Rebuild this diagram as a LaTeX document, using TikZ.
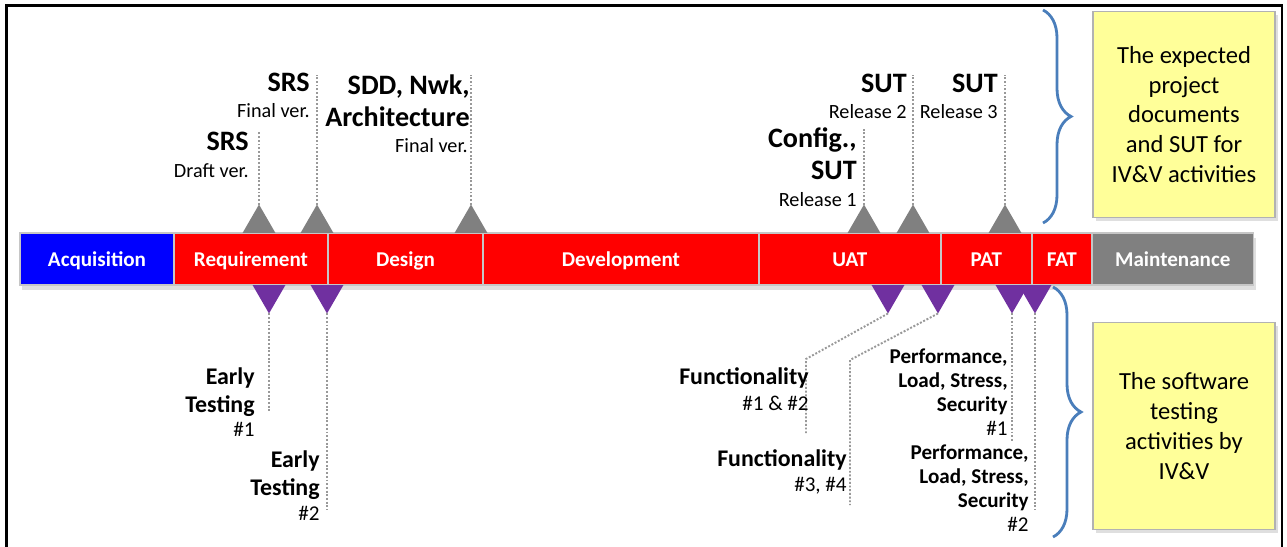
\documentclass[tikz,border=0pt]{standalone}
\usepackage{fontspec}
\setmainfont{Carlito}
\usepackage{xcolor}
\usepackage{tikz}
\usetikzlibrary{positioning}
\usetikzlibrary{shapes.geometric}
\usetikzlibrary{shadows}
\usetikzlibrary{decorations.pathreplacing}
\definecolor{ivvpurple}{RGB}{112,48,160}
\definecolor{ivvblue}{RGB}{74,126,187}
\definecolor{ivvyellow}{RGB}{255,255,153}
\tikzset{
    phase/.style = {rectangle, draw=gray!45, line width=0.8pt, text=white, inner sep=0pt, outer sep=0pt,
        minimum height=1.04cm, text height=1.8ex, text depth=0pt, font=\bfseries\fontsize{12}{14}\selectfont,
        drop shadow={shadow xshift=0.05cm, shadow yshift=-0.1cm, opacity=0.25}},
    blue_phase/.style = {phase, fill=blue},
    red_phase/.style = {phase, fill=red},
    gray_phase/.style = {phase, fill=black!50},
    doc_tri/.style = {regular polygon, regular polygon sides=3, fill=black!50, minimum size=0.76cm, inner sep=0pt, outer sep=0pt},
    test_tri/.style = {regular polygon, regular polygon sides=3, shape border rotate=180, fill=ivvpurple, minimum size=0.76cm, inner sep=0pt, outer sep=0pt}
}
\tikzset{
    tlabel/.style = {align=right, anchor=base east, inner sep=0pt},
    doc_title/.style = {tlabel, font=\bfseries\fontsize{16}{18.7}\selectfont},
    doc_ver/.style = {tlabel, font=\fontsize{11.5}{13}\selectfont},
    test_title/.style = {tlabel, font=\bfseries\fontsize{13.6}{15.9}\selectfont},
    perf_title/.style = {tlabel, font=\bfseries\fontsize{12}{13.6}\selectfont},
    test_num/.style = {tlabel, font=\fontsize{12}{13.6}\selectfont},
    dot_line/.style = {densely dotted, line width=1.1pt, black!40},
    brace_line/.style = {decorate, decoration={brace, amplitude=0.56cm}, line width=1.6pt, ivvblue},
    note_box/.style = {rectangle, draw=black!30, line width=0.8pt, fill=ivvyellow, align=center,
        minimum width=3.64cm, minimum height=4.13cm, inner sep=0pt,
        font=\fontsize{14}{17}\selectfont,
        drop shadow={shadow xshift=0.05cm, shadow yshift=-0.07cm, opacity=0.25}}
}

\begin{document}
\begin{tikzpicture}[x=0.02cm, y=-0.02cm]
    \useasboundingbox (0,0) rectangle (1287,547);
    \draw[line width=1.2pt] (6.5,547) -- (6.5,5.5) -- (1282,5.5) -- (1282,547);

    \node[blue_phase, anchor=west, minimum width=3.08cm] (acq) at (20,259) {Acquisition};
    \node[red_phase, minimum width=3.08cm, right=0pt of acq] (req) {Requirement};
    \node[red_phase, minimum width=3.10cm, right=0pt of req] (des) {Design};
    \node[red_phase, minimum width=5.52cm, right=0pt of des] (dev) {Development};
    \node[red_phase, minimum width=3.64cm, right=0pt of dev] (uat) {UAT};
    \node[red_phase, minimum width=1.82cm, right=0pt of uat] (pat) {PAT};
    \node[red_phase, minimum width=1.20cm, right=0pt of pat] (fat) {FAT};
    \node[gray_phase, minimum width=3.24cm, right=0pt of fat] (mnt) {Maintenance};

    % documents delivered to IV&V
    \node[doc_tri] (d1) at (259,223.5) {};
    \node[doc_tri] (d2) at (317,223.5) {};
    \node[doc_tri] (d3) at (471,223.5) {};
    \node[doc_tri] (d4) at (864,223.5) {};
    \node[doc_tri] (d5) at (913,223.5) {};
    \node[doc_tri] (d6) at (1005,223.5) {};
    \coordinate (d1top) at (259,131);
    \coordinate (d2top) at (317,75);
    \coordinate (d3top) at (471,75);
    \coordinate (d4top) at (864,128);
    \coordinate (d5top) at (913,75);
    \coordinate (d6top) at (1005,75);
    \draw[dot_line] (d1.corner 1) -- (d1top);
    \draw[dot_line] (d2.corner 1) -- (d2top);
    \draw[dot_line] (d3.corner 1) -- (d3top);
    \draw[dot_line] (d4.corner 1) -- (d4top);
    \draw[dot_line] (d5.corner 1) -- (d5top);
    \draw[dot_line] (d6.corner 1) -- (d6top);

    \node[doc_title] (srsA) at (249,151) {SRS};
    \node[doc_ver] (srsAv) at (249,178) {Draft ver.};
    \node[doc_title] (srsB) at (310,92) {SRS};
    \node[doc_ver] (srsBv) at (310,118) {Final ver.};
    \node[doc_title] (sdd) at (470,127) {SDD, Nwk,\\Architecture};
    \node[doc_ver] (sddv) at (468,153) {Final ver.};
    \node[doc_title] (cfg) at (857,180) {Config.,\\SUT};
    \node[doc_ver] (cfgv) at (857,207) {Release 1};
    \node[doc_title] (sutB) at (907,93) {SUT};
    \node[doc_ver] (sutBv) at (907,119) {Release 2};
    \node[doc_title] (sutC) at (998,93) {SUT};
    \node[doc_ver] (sutCv) at (998,119) {Release 3};

    % testing activities
    \node[test_tri] (t1) at (269,294.5) {};
    \node[test_tri] (t2) at (327,294.5) {};
    \node[test_tri] (t3) at (888,294.5) {};
    \node[test_tri] (t4) at (938,294.5) {};
    \node[test_tri] (t5) at (1012,294.5) {};
    \node[test_tri] (t6) at (1035,294.5) {};
    \coordinate (t1end) at (269,413);
    \coordinate (t2end) at (327,510);
    \coordinate (t3bend) at (806,359);
    \coordinate (t3end) at (806,434);
    \coordinate (t4bend) at (850,360);
    \coordinate (t4end) at (850,505);
    \coordinate (t5end) at (1012,442);
    \coordinate (t6end) at (1035,510);
    \draw[dot_line] (t1.corner 1) -- (t1end);
    \draw[dot_line] (t2.corner 1) -- (t2end);
    \draw[dot_line] (t3.corner 1) -- (t3bend) -- (t3end);
    \draw[dot_line] (t4.corner 1) -- (t4bend) -- (t4end);
    \draw[dot_line] (t5.corner 1) -- (t5end);
    \draw[dot_line] (t6.corner 1) -- (t6end);

    \node[test_title] (etA) at (255,412) {Early\\Testing};
    \node[test_num] (etAn) at (255,436) {\#1};
    \node[test_title] (etB) at (320,495) {Early\\Testing};
    \node[test_num] (etBn) at (320,520) {\#2};
    \node[test_title] (fnA) at (809,384) {Functionality};
    \node[test_num] (fnAn) at (809,410) {\#1 \& \#2};
    \node[test_title] (fnB) at (847,466) {Functionality};
    \node[test_num] (fnBn) at (847,491) {\#3, \#4};
    \node[perf_title] (pfA) at (1008,411) {Performance,\\Load, Stress,\\Security};
    \node[test_num] (pfAn) at (1008,435) {\#1};
    \node[perf_title] (pfB) at (1029,507) {Performance,\\Load, Stress,\\Security};
    \node[test_num] (pfBn) at (1029,531) {\#2};

    % braces and notes
    \coordinate (b1s) at (1043,10);
    \coordinate (b1e) at (1043,223);
    \coordinate (b2s) at (1053,287);
    \coordinate (b2e) at (1053,537);
    \draw[brace_line] (b1s) -- (b1e);
    \draw[brace_line] (b2s) -- (b2e);
    \node[note_box] (docs) at (1184,114.5) {The expected\\project\\documents\\and SUT for\\IV\&V activities};
    \node[note_box] (tests) at (1184,426) {The software\\testing\\activities by\\IV\&V};
\end{tikzpicture}
\end{document}
